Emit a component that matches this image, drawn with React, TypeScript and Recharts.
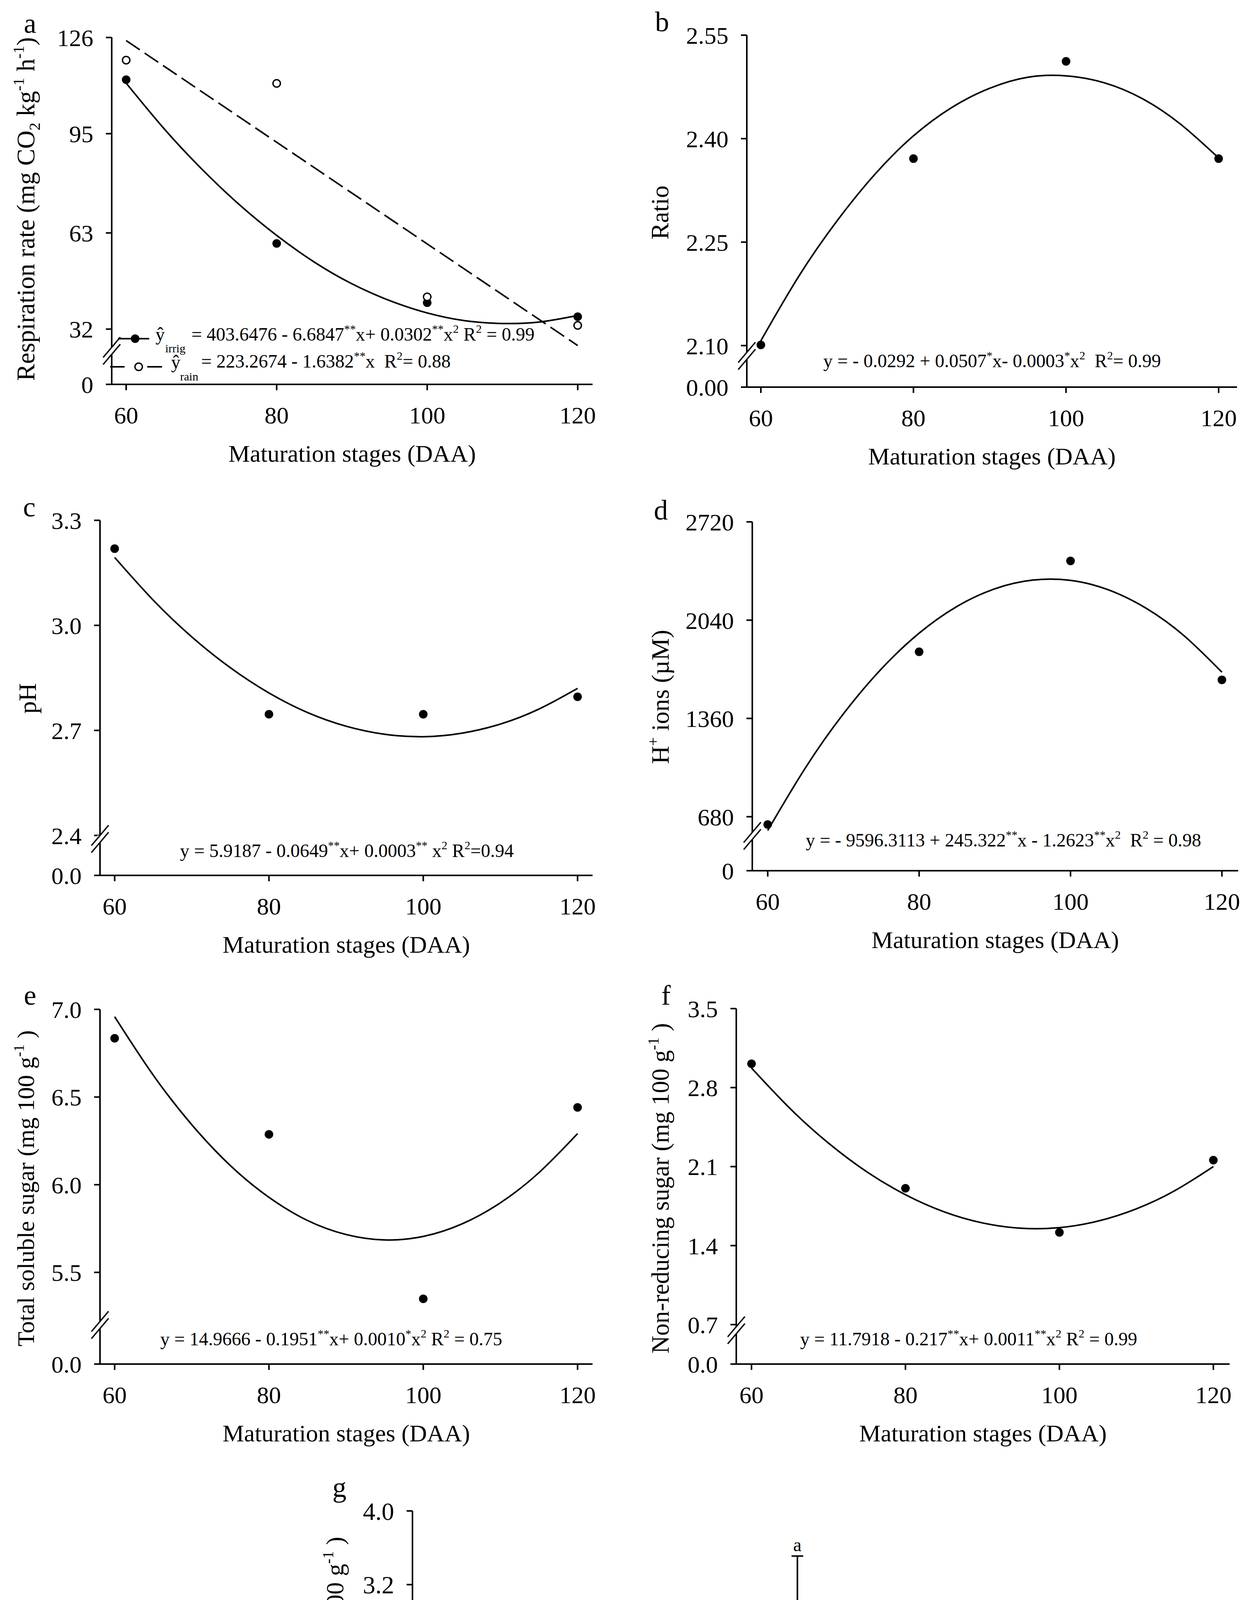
import React from 'react';
import {
  ComposedChart,
  Line,
  Scatter,
  XAxis,
  YAxis,
  BarChart,
  Bar,
  Cell,
  ErrorBar,
  ReferenceDot,
} from 'recharts';

const FONT = '"Liberation Serif", "Times New Roman", Times, serif';

// ---------- data ----------
const daaStages = [60, 80, 100, 120];
const daaFitStages = [60, 65, 70, 75, 80, 85, 90, 95, 100, 105, 110, 115, 120];
const daaTicks = [60, 80, 100, 120];

// a: respiration rate
const respIrrig = [112.4, 59.6, 40.5, 36.0];
const respRain = [118.7, 111.2, 42.4, 33.2];
const respIrrigFit = [111.3, 96.7, 83.7, 72.2, 62.2, 53.6, 46.6, 41.2, 37.2, 34.7, 33.8, 34.3, 36.4];
const respRainFitStages = [60, 120];
const respRainFit = [125.0, 26.7];
const respTicks = [0, 32, 63, 95, 126];
const respTickLabels = ['0', '32', '63', '95', '126'];

// b: ratio
const ratioVals = [2.101, 2.371, 2.512, 2.371];
const ratioFit = [2.107, 2.201, 2.281, 2.349, 2.404, 2.445, 2.473, 2.489, 2.491, 2.481, 2.458, 2.421, 2.372];
const ratioTicks = [0, 2.1, 2.25, 2.4, 2.55];
const ratioTickLabels = ['0.00', '2.10', '2.25', '2.40', '2.55'];

// c: pH
const phVals = [3.219, 2.746, 2.746, 2.796];
const phFit = [3.194, 3.072, 2.967, 2.879, 2.807, 2.751, 2.712, 2.689, 2.682, 2.692, 2.718, 2.761, 2.82];
const phTicks = [0, 2.4, 2.7, 3.0, 3.3];
const phTickLabels = ['0.0', '2.4', '2.7', '3.0', '3.3'];

// d: H+ ions
const hVals = [626, 1821, 2450, 1627];
const hFit = [585, 1020, 1392, 1702, 1950, 2135, 2257, 2317, 2315, 2250, 2122, 1932, 1680];
const hTicks = [0, 680, 1360, 2040, 2720];
const hTickLabels = ['0', '680', '1360', '2040', '2720'];

// e: total soluble sugar
const tssVals = [6.835, 6.287, 5.349, 6.441];
const tssFit = [6.958, 6.625, 6.342, 6.109, 5.928, 5.796, 5.716, 5.685, 5.705, 5.776, 5.897, 6.069, 6.291];
const tssTicks = [0, 5.5, 6.0, 6.5, 7.0];
const tssTickLabels = ['0.0', '5.5', '6.0', '6.5', '7.0'];

// f: non-reducing sugar
const nrsVals = [3.011, 1.908, 1.517, 2.157];
const nrsFit = [2.974, 2.615, 2.308, 2.053, 1.851, 1.7, 1.601, 1.554, 1.559, 1.617, 1.726, 1.887, 2.1];
const nrsTicks = [0, 0.7, 1.4, 2.1, 2.8, 3.5];
const nrsTickLabels = ['0.0', '0.7', '1.4', '2.1', '2.8', '3.5'];

// g: non-reducing sugar by system
const systems = ['Irrigated', 'Rain'];
const systemNrs = [1.83, 2.46];
const systemNrsErr = [0.8, 1.05];
const systemLetters = ['b', 'a'];
const systemFills = ['#ffffff', '#d3d3d3'];
const systemTicks = [0, 0.8, 1.6, 2.4, 3.2, 4.0];
const systemTickLabels = ['0.0', '0.8', '1.6', '2.4', '3.2', '4.0'];

// ---------- helpers ----------
const zip = (xs: number[], ys: number[]) => xs.map((x, i) => ({ x, y: ys[i] }));

type Seg = string | { sup: string } | { sub: string };

function Rich(props: {
  x: number;
  y: number;
  fs: number;
  segs: Seg[];
  anchor?: 'start' | 'middle' | 'end';
  rotate?: boolean;
}) {
  const { x, y, fs, segs, anchor = 'start', rotate = false } = props;
  let cur = 0;
  const kids = segs.map((s, i) => {
    let txt: string;
    let size: number;
    let target: number;
    if (typeof s === 'string') {
      txt = s;
      size = fs;
      target = 0;
    } else if ('sup' in s) {
      txt = s.sup;
      size = fs * 0.62;
      target = -0.42 * fs;
    } else {
      txt = s.sub;
      size = fs * 0.62;
      target = 0.22 * fs;
    }
    const dy = target - cur;
    cur = target;
    return (
      <tspan key={i} dy={dy} fontSize={size}>
        {txt}
      </tspan>
    );
  });
  return (
    <text
      x={x}
      y={y}
      textAnchor={anchor}
      fontFamily={FONT}
      fill="#000"
      style={{ whiteSpace: 'pre' }}
      transform={rotate ? `rotate(-90 ${x} ${y})` : undefined}
    >
      {kids}
    </text>
  );
}

const YW = 320;
const MT = 60;
const MR = 60;
const XH = 220;

type Box = { x0: number; x1: number; y0: number; y1: number };

interface PanelProps {
  box: Box;
  xDomain: [number, number];
  yTop: number;
  brk: number;
  gap: number;
  yTicks: number[];
  yTickLabels: string[];
  fits: { data: { x: number; y: number }[]; dashed?: boolean }[];
  points: { data: { x: number; y: number }[]; open?: boolean }[];
}

const mkBreak = (brk: number, gap: number) => (v: number) =>
  v >= brk ? gap + (v - brk) : (v * gap) / brk;

function ScatterPanel(p: PanelProps) {
  const f = mkBreak(p.brk, p.gap);
  const dTop = f(p.yTop);
  const mapped = p.yTicks.map(f);
  const W = p.box.x1 - p.box.x0 + YW + MR;
  const H = p.box.y1 - p.box.y0 + MT + XH;
  const axisStyle = { stroke: '#000', strokeWidth: 4 };
  return (
    <div style={{ position: 'absolute', left: p.box.x0 - YW, top: p.box.y0 - MT }}>
      <ComposedChart width={W} height={H} margin={{ top: MT, right: MR, bottom: 0, left: 0 }}>
        <XAxis
          type="number"
          dataKey="x"
          domain={p.xDomain}
          ticks={daaTicks}
          allowDataOverflow
          interval={0}
          height={XH}
          axisLine={axisStyle}
          tickLine={axisStyle}
          tickSize={15}
          tickMargin={41}
          tick={{ fill: '#000', fontSize: 62, fontFamily: FONT }}
        />
        <YAxis
          type="number"
          domain={[0, dTop]}
          ticks={mapped}
          allowDataOverflow
          interval={0}
          width={YW}
          axisLine={axisStyle}
          tickLine={axisStyle}
          tickSize={15}
          tickMargin={32}
          tick={{ fill: '#000', fontSize: 62, fontFamily: FONT }}
          tickFormatter={(v: number) => {
            const i = mapped.findIndex((t) => Math.abs(t - v) < 1e-6);
            return i >= 0 ? p.yTickLabels[i] : '';
          }}
        />
        {p.fits.map((s, i) => (
          <Line
            key={'f' + i}
            data={s.data}
            dataKey={(d: { y: number }) => f(d.y)}
            type={s.dashed ? 'linear' : 'natural'}
            stroke="#000"
            strokeWidth={4}
            strokeDasharray={s.dashed ? '42 15' : undefined}
            dot={false}
            activeDot={false}
            isAnimationActive={false}
            legendType="none"
          />
        ))}
        {p.points.map((s, i) => (
          <Scatter
            key={'s' + i}
            data={s.data}
            dataKey={(d: { y: number }) => f(d.y)}
            isAnimationActive={false}
            legendType="none"
            shape={(props: any) => (
              <circle
                cx={props.cx}
                cy={props.cy}
                r={s.open ? 9.5 : 11}
                fill={s.open ? '#fff' : '#000'}
                stroke="#000"
                strokeWidth={s.open ? 3.5 : 0}
              />
            )}
          />
        ))}
      </ComposedChart>
    </div>
  );
}

function breakY(p: PanelProps) {
  const f = mkBreak(p.brk, p.gap);
  const k = (p.box.y1 - p.box.y0) / f(p.yTop);
  return p.box.y1 - p.gap * k;
}

function BreakMark({ x, y }: { x: number; y: number }) {
  return (
    <g>
      <rect x={x - 7} y={y - 9} width={14} height={18} fill="#fff" />
      <line x1={x - 22} y1={y - 9 + 26} x2={x + 22} y2={y - 9 - 26} stroke="#000" strokeWidth={3.5} />
      <line x1={x - 22} y1={y + 9 + 26} x2={x + 22} y2={y + 9 - 26} stroke="#000" strokeWidth={3.5} />
    </g>
  );
}

// ---------- panels ----------
const panelA: PanelProps = {
  box: { x0: 286, x1: 1517, y0: 96, y1: 984 },
  xDomain: [58.08, 121.97],
  yTop: 126,
  brk: 25,
  gap: 10.82,
  yTicks: respTicks,
  yTickLabels: respTickLabels,
  fits: [
    { data: zip(daaFitStages, respIrrigFit) },
    { data: zip(respRainFitStages, respRainFit), dashed: true },
  ],
  points: [{ data: zip(daaStages, respIrrig) }, { data: zip(daaStages, respRain), open: true }],
};

const panelB: PanelProps = {
  box: { x0: 1912, x1: 3167, y0: 90, y1: 991 },
  xDomain: [58.16, 122.41],
  yTop: 2.55,
  brk: 2.085,
  gap: 0.0452,
  yTicks: ratioTicks,
  yTickLabels: ratioTickLabels,
  fits: [{ data: zip(daaFitStages, ratioFit) }],
  points: [{ data: zip(daaStages, ratioVals) }],
};

const panelC: PanelProps = {
  box: { x0: 256, x1: 1517, y0: 1332, y1: 2241 },
  xDomain: [58.1, 121.94],
  yTop: 3.3,
  brk: 2.39,
  gap: 0.1041,
  yTicks: phTicks,
  yTickLabels: phTickLabels,
  fits: [{ data: zip(daaFitStages, phFit) }],
  points: [{ data: zip(daaStages, phVals) }],
};

const panelD: PanelProps = {
  box: { x0: 1926, x1: 3170, y0: 1336, y1: 2229 },
  xDomain: [57.96, 122.15],
  yTop: 2720,
  brk: 547,
  gap: 240.6,
  yTicks: hTicks,
  yTickLabels: hTickLabels,
  fits: [{ data: zip(daaFitStages, hFit) }],
  points: [{ data: zip(daaStages, hVals) }],
};

const panelE: PanelProps = {
  box: { x0: 256, x1: 1517, y0: 2584, y1: 3492 },
  xDomain: [58.1, 121.94],
  yTop: 7.0,
  brk: 5.2,
  gap: 0.2229,
  yTicks: tssTicks,
  yTickLabels: tssTickLabels,
  fits: [{ data: zip(daaFitStages, tssFit) }],
  points: [{ data: zip(daaStages, tssVals) }],
};

const panelF: PanelProps = {
  box: { x0: 1885, x1: 3148, y0: 2582, y1: 3492 },
  xDomain: [58.02, 122.11],
  yTop: 3.5,
  brk: 0.65,
  gap: 0.2998,
  yTicks: nrsTicks,
  yTickLabels: nrsTickLabels,
  fits: [{ data: zip(daaFitStages, nrsFit) }],
  points: [{ data: zip(daaStages, nrsVals) }],
};

const scatterPanels = [panelA, panelB, panelC, panelD, panelE, panelF];

const boxG: Box = { x0: 1056, x1: 2370, y0: 3868, y1: 4811 };

function BarPanel() {
  const data = systems.map((s, i) => ({
    cat: s,
    v: systemNrs[i],
    err: [0, systemNrsErr[i]],
  }));
  const W = boxG.x1 - boxG.x0 + YW + MR;
  const H = boxG.y1 - boxG.y0 + MT + XH;
  const axisStyle = { stroke: '#000', strokeWidth: 4 };
  return (
    <div style={{ position: 'absolute', left: boxG.x0 - YW, top: boxG.y0 - MT }}>
      <BarChart width={W} height={H} data={data} margin={{ top: MT, right: MR, bottom: 0, left: 0 }}>
        <XAxis
          dataKey="cat"
          type="category"
          height={XH}
          axisLine={axisStyle}
          tickLine={axisStyle}
          tickSize={15}
          tickMargin={41}
          interval={0}
          tick={{ fill: '#000', fontSize: 64, fontFamily: FONT }}
        />
        <YAxis
          type="number"
          domain={[0, 4]}
          ticks={systemTicks}
          allowDataOverflow
          interval={0}
          width={YW}
          axisLine={axisStyle}
          tickLine={axisStyle}
          tickSize={15}
          tickMargin={32}
          tick={{ fill: '#000', fontSize: 64, fontFamily: FONT }}
          tickFormatter={(v: number) => {
            const i = systemTicks.findIndex((t) => Math.abs(t - v) < 1e-6);
            return i >= 0 ? systemTickLabels[i] : '';
          }}
        />
        <Bar dataKey="v" barSize={393} stroke="#000" strokeWidth={3.5} isAnimationActive={false}>
          {data.map((d, i) => (
            <Cell key={i} fill={systemFills[i]} />
          ))}
          <ErrorBar dataKey="err" width={15} stroke="#000" strokeWidth={4} direction="y" />
        </Bar>
        {data.map((d, i) => (
          <ReferenceDot
            key={'l' + i}
            x={d.cat}
            y={systemNrs[i] + systemNrsErr[i]}
            r={1}
            fill="none"
            stroke="none"
            ifOverflow="visible"
            label={{
              value: systemLetters[i],
              position: 'top',
              offset: 12,
              fontSize: 48,
              fill: '#000',
              fontFamily: FONT,
            }}
          />
        ))}
      </BarChart>
    </div>
  );
}

const EQ = 48;

export default function App() {
  const xLabel = 'Maturation stages (DAA)';
  return (
    <div
      style={{
        position: 'absolute',
        left: 0,
        top: 0,
        width: 3190,
        height: 4944,
        background: '#fff',
        fontFamily: FONT,
        overflow: 'hidden',
      }}
    >
      {scatterPanels.map((p, i) => (
        <ScatterPanel key={i} {...p} />
      ))}
      <BarPanel />
      <svg
        width={3190}
        height={4944}
        style={{ position: 'absolute', left: 0, top: 0, pointerEvents: 'none' }}
      >
        {/* break marks */}
        {scatterPanels.map((p, i) => (
          <BreakMark key={'b' + i} x={p.box.x0} y={breakY(p)} />
        ))}

        {/* panel letters */}
        <Rich x={77} y={84} fs={72} segs={['a']} anchor="middle" />
        <Rich x={1695} y={80} fs={72} segs={['b']} anchor="middle" />
        <Rich x={75} y={1322} fs={72} segs={['c']} anchor="middle" />
        <Rich x={1692} y={1330} fs={72} segs={['d']} anchor="middle" />
        <Rich x={77} y={2572} fs={72} segs={['e']} anchor="middle" />
        <Rich x={1705} y={2572} fs={72} segs={['f']} anchor="middle" />
        <Rich x={869} y={3832} fs={72} segs={['g']} anchor="middle" />

        {/* x labels */}
        {scatterPanels.map((p, i) => (
          <Rich
            key={'x' + i}
            x={(p.box.x0 + p.box.x1) / 2}
            y={p.box.y1 + 198}
            fs={62}
            segs={[xLabel]}
            anchor="middle"
          />
        ))}

        {/* y labels */}
        <Rich
          x={88}
          y={535}
          fs={65}
          rotate
          anchor="middle"
          segs={['Respiration rate (mg CO', { sub: '2' }, ' kg', { sup: '-1' }, ' h', { sup: '-1' }, ')']}
        />
        <Rich x={1711} y={544} fs={64} rotate anchor="middle" segs={['Ratio']} />
        <Rich x={92} y={1788} fs={64} rotate anchor="middle" segs={['pH']} />
        <Rich x={1712} y={1784} fs={64} rotate anchor="middle" segs={['H', { sup: '+' }, ' ions (µM)']} />
        <Rich
          x={87}
          y={3042}
          fs={62}
          rotate
          anchor="middle"
          segs={['Total soluble sugar (mg 100 g', { sup: '-1' }, ' )']}
        />
        <Rich
          x={1712}
          y={3042}
          fs={63}
          rotate
          anchor="middle"
          segs={['Non-reducing sugar (mg 100 g', { sup: '-1' }, ' )']}
        />
        <Rich
          x={879}
          y={4357}
          fs={63}
          rotate
          anchor="middle"
          segs={['Non-reducing sugar (mg 100 g', { sup: '-1' }, ' )']}
        />

        {/* panel a legend */}
        <line x1={302} y1={867} x2={382} y2={867} stroke="#000" strokeWidth={4} />
        <circle cx={346} cy={867} r={11} fill="#000" />
        <Rich x={398} y={872} fs={EQ} segs={['ŷ']} />
        <Rich x={423} y={902} fs={30} segs={['irrig']} />
        <Rich
          x={490}
          y={872}
          fs={EQ}
          segs={['= 403.6476 - 6.6847', { sup: '**' }, 'x+ 0.0302', { sup: '**' }, 'x', { sup: '2' }, ' R', { sup: '2' }, ' = 0.99']}
        />
        <line x1={282} y1={939} x2={415} y2={939} stroke="#000" strokeWidth={4} strokeDasharray="37 58 38" />
        <circle cx={355} cy={939} r={9.5} fill="#fff" stroke="#000" strokeWidth={3.5} />
        <Rich x={438} y={943} fs={EQ} segs={['ŷ']} />
        <Rich x={461} y={974} fs={30} segs={['rain']} />
        <Rich
          x={515}
          y={941}
          fs={EQ}
          segs={['= 223.2674 - 1.6382', { sup: '**' }, 'x  R', { sup: '2' }, '= 0.88']}
        />

        {/* equations */}
        <Rich
          x={2540}
          y={940}
          fs={EQ}
          anchor="middle"
          segs={['y = - 0.0292 + 0.0507', { sup: '*' }, 'x- 0.0003', { sup: '*' }, 'x', { sup: '2' }, '  R', { sup: '2' }, '= 0.99']}
        />
        <Rich
          x={888}
          y={2194}
          fs={EQ}
          anchor="middle"
          segs={['y = 5.9187 - 0.0649', { sup: '**' }, 'x+ 0.0003', { sup: '**' }, ' x', { sup: '2' }, ' R', { sup: '2' }, '=0.94']}
        />
        <Rich
          x={2569}
          y={2167}
          fs={EQ}
          anchor="middle"
          segs={['y = - 9596.3113 + 245.322', { sup: '**' }, 'x - 1.2623', { sup: '**' }, 'x', { sup: '2' }, '  R', { sup: '2' }, ' = 0.98']}
        />
        <Rich
          x={848}
          y={3444}
          fs={EQ}
          anchor="middle"
          segs={['y = 14.9666 - 0.1951', { sup: '**' }, 'x+ 0.0010', { sup: '*' }, 'x', { sup: '2' }, ' R', { sup: '2' }, ' = 0.75']}
        />
        <Rich
          x={2480}
          y={3444}
          fs={EQ}
          anchor="middle"
          segs={['y = 11.7918 - 0.217', { sup: '**' }, 'x+ 0.0011', { sup: '**' }, 'x', { sup: '2' }, ' R', { sup: '2' }, ' = 0.99']}
        />
      </svg>
    </div>
  );
}
